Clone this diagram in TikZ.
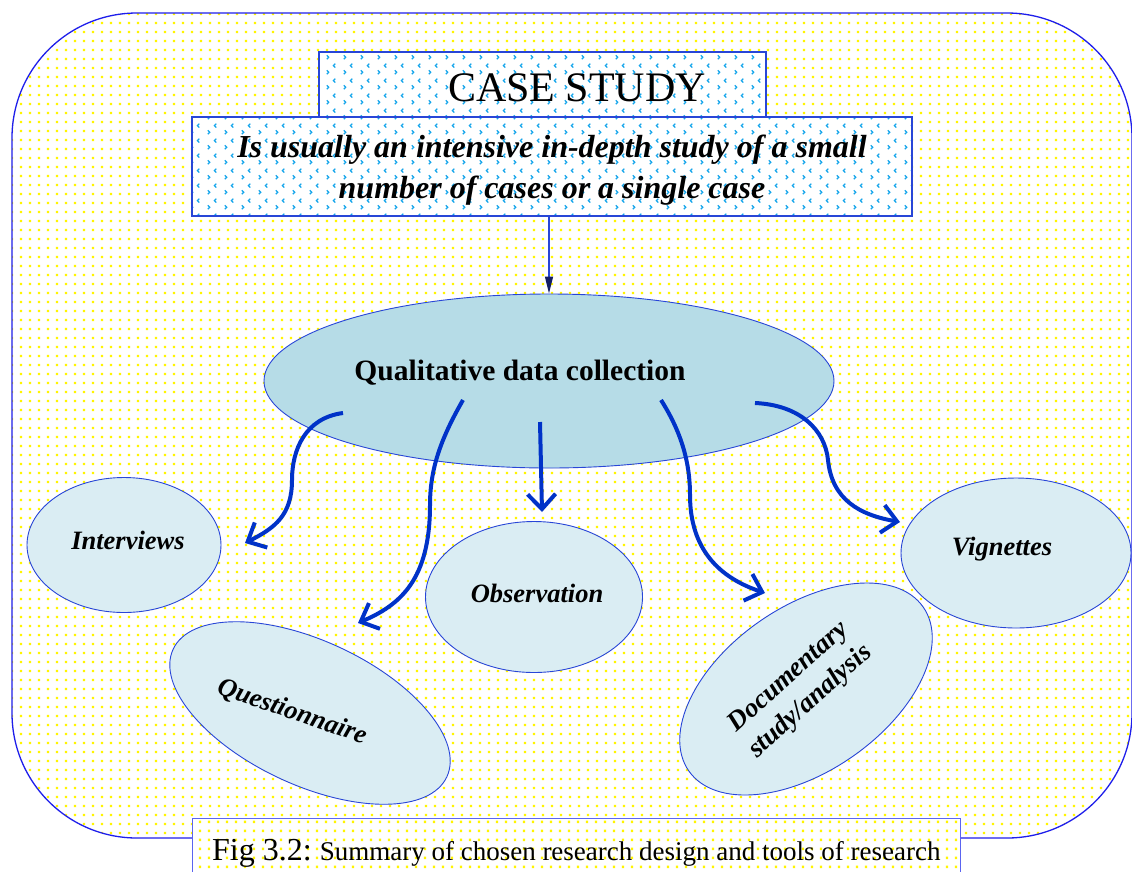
\documentclass[tikz,border=0pt]{standalone}
\usepackage{fontspec}
\setmainfont{Liberation Serif}
\usetikzlibrary{shapes.geometric,arrows.meta,patterns.meta}
\definecolor{dotyellow}{RGB}{255,245,0}
\definecolor{chevcyan}{RGB}{20,165,235}
\definecolor{edgeblue}{RGB}{40,70,215}
\definecolor{outerblue}{RGB}{30,30,235}
\definecolor{capblue}{RGB}{90,100,240}
\definecolor{arrowblue}{RGB}{0,50,200}
\definecolor{bigfill}{RGB}{182,220,231}
\definecolor{smallfill}{RGB}{218,237,243}
\definecolor{navyblue}{RGB}{20,30,100}
\tikzdeclarepattern{name=ydots, type=uncolored,
  bounding box={(0pt,0pt) and (8.5pt,8.5pt)}, tile size={(8.5pt,8.5pt)},
  code={\fill (3pt,3pt) rectangle (5.5pt,5.5pt);}}
\tikzdeclarepattern{name=chev, type=uncolored,
  bounding box={(0pt,0pt) and (17pt,15pt)}, tile size={(17pt,15pt)},
  code={\draw[line width=1.3pt] (4pt,2pt)--(6pt,4pt)--(4pt,6pt);
        \draw[line width=1.3pt] (13pt,9pt)--(11pt,11pt)--(13pt,13pt);}}
\begin{document}
\begin{tikzpicture}[x=1pt,y=-1pt,
  casebox/.style={draw=edgeblue, line width=1.2pt, preaction={fill=white}, pattern=chev, pattern color=chevcyan, inner sep=0pt},
  capbox/.style={draw=capblue, line width=1.3pt, preaction={fill=white}, pattern=ydots, pattern color=dotyellow, inner sep=0pt},
  bigell/.style={ellipse, draw=edgeblue, line width=0.9pt, fill=bigfill, inner sep=0pt},
  smallell/.style={ellipse, draw=edgeblue, line width=0.9pt, fill=smallfill, inner sep=0pt},
  lbl/.style={font=\fontsize{26.5}{30}\selectfont\bfseries\itshape, inner sep=0pt},
  flowarrow/.style={draw=arrowblue, line width=4pt, -{Straight Barb[length=15pt,width=28pt]}}
]
\useasboundingbox (0,0) rectangle (1132,871);
\fill[white] (0,0) rectangle (1132,871);
% outer frame
\draw[outerblue, line width=1.3pt, rounded corners=125pt, preaction={fill=white}, pattern=ydots, pattern color=dotyellow] (12,13) rectangle (1132,838);
% title boxes
\node[casebox, minimum width=447pt, minimum height=65pt] (cs) at (542.5,84.5) {};
\node[inner sep=0pt, font=\fontsize{42}{48}\selectfont] (cst) at (577,88) {CASE STUDY};
\node[casebox, minimum width=720pt, minimum height=99pt] (def) at (552,166.5) {};
\node[inner sep=0pt, align=center, font=\fontsize{32}{41}\selectfont\bfseries\itshape] (deft) at (552,170)
  {Is usually an intensive in-depth study of a small\\number of cases or a single case};
% main ellipse
\node[bigell, minimum width=570pt, minimum height=174pt] (qdc) at (549,381) {};
\node[inner sep=0pt, font=\fontsize{29.5}{34}\selectfont\bfseries] (qdct) at (520,373) {Qualitative data collection};
\draw[edgeblue, line width=1.2pt, -{Triangle[length=17pt,width=8pt,fill=navyblue,color=navyblue]}] (qdc.north |- def.south) -- (qdc.north);
% tool ellipses
\node[smallell, minimum width=194pt, minimum height=135pt] (iv) at (124,545) {};
\node[lbl] (ivt) at (128,540) {Interviews};
\node[smallell, minimum width=217pt, minimum height=151pt] (ob) at (534,597) {};
\node[lbl] (obt) at (537,593) {Observation};
\node[smallell, minimum width=230pt, minimum height=150pt] (vg) at (1016,553) {};
\node[lbl] (vgt) at (1002,549) {Vignettes};
\node[smallell, minimum width=302pt, minimum height=144pt, rotate=-25] (qu) at (310,713) {};
\node[lbl, rotate=-19] (qut) at (292,712) {Questionnaire};
\node[smallell, minimum width=286pt, minimum height=164pt, rotate=35] (dc) at (806,689) {};
\node[lbl, rotate=42, align=center, font=\fontsize{27}{33}\selectfont\bfseries\itshape] (dct) at (800,690) {Documentary\\study/analysis};
% arrows
\coordinate (s1) at (343,413); \coordinate (e1) at (245,543);
\coordinate (s2) at (463,400); \coordinate (e2) at (358,623);
\coordinate (s3) at (540,422); \coordinate (e3) at (542,512);
\coordinate (s4) at (661,400); \coordinate (e4) at (765,593);
\coordinate (s5) at (755,403); \coordinate (e5) at (900,522);
\draw[flowarrow] (s1) .. controls (305,418) and (292,450) .. (292,480) .. controls (292,515) and (275,528) .. (e1);
\draw[flowarrow] (s2) .. controls (440,440) and (430,470) .. (430,505) .. controls (430,580) and (400,605) .. (e2);
\draw[flowarrow] (s3) -- (e3);
\draw[flowarrow] (s4) .. controls (680,430) and (690,460) .. (690,495) .. controls (690,550) and (720,578) .. (e4);
\draw[flowarrow] (s5) .. controls (800,405) and (825,430) .. (828,460) .. controls (832,500) and (860,515) .. (e5);
% caption
\node[capbox, minimum width=768pt, minimum height=70pt, anchor=north west] (cap) at (192,818) {};
\node[anchor=base west, inner sep=0pt] (capt) at (212,860) {\fontsize{32}{36}\selectfont Fig 3.2:\ \fontsize{27}{30}\selectfont Summary of chosen research design and tools of research};
\end{tikzpicture}
\end{document}
